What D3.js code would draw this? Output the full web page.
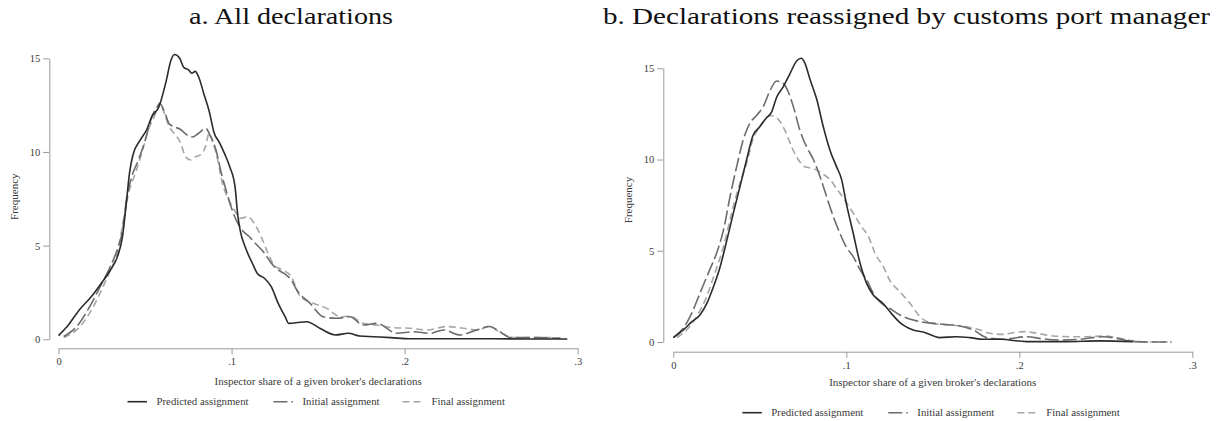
<!DOCTYPE html>
<html>
<head>
<meta charset="utf-8">
<script src="https://cdn.jsdelivr.net/npm/d3@7"></script>
<style>
  html, body { margin: 0; padding: 0; background: #fff; }
  svg { display: block; }
  svg text { font-family: "Liberation Serif", "Tinos", "DejaVu Serif", serif !important; }
</style>
</head>
<body>
<svg id="chart" width="1225" height="421"></svg>
<script>
// ---- Labels ----
const seriesNames = ["Predicted assignment", "Initial assignment", "Final assignment"];
const panelTitles = ["a. All declarations", "b. Declarations reassigned by customs port manager"];
const xTickValues = [0, 0.1, 0.2, 0.3];
const xTickLabels = ["0", ".1", ".2", ".3"];
const yTickValues = [0, 5, 10, 15];
const xAxisTitle = "Inspector share of a given broker's declarations";
const yAxisTitle = "Frequency";

// ---- Panel a: all declarations (kernel density of inspector share) ----
const allPredictedX = [0.000,0.005,0.012,0.019,0.024,0.030,0.034,0.037,0.039,0.041,0.043,0.047,0.051,0.054,0.058,0.062,0.065,0.067,0.070,0.0725,0.075,0.077,0.079,0.081,0.084,0.087,0.090,0.093,0.096,0.099,0.102,0.1035,0.105,0.108,0.112,0.115,0.119,0.123,0.127,0.131,0.133,0.1435,0.151,0.160,0.1675,0.174,0.182,0.192,0.203,0.240,0.270,0.294];
const allPredictedY = [0.20,0.68,1.57,2.28,2.90,3.70,4.40,5.50,7.10,8.86,9.84,10.60,11.20,11.90,12.40,13.70,14.90,15.20,15.00,14.50,14.40,14.20,14.30,14.00,13.10,12.20,11.00,10.50,9.90,9.20,8.15,6.70,5.80,4.90,4.06,3.50,3.26,2.80,1.90,1.20,0.85,0.94,0.59,0.23,0.32,0.18,0.14,0.09,0.03,0.03,0.02,0.02];

const allInitialX = [0.003,0.0105,0.018,0.024,0.030,0.034,0.037,0.0395,0.0424,0.0463,0.050,0.054,0.057,0.0585,0.061,0.064,0.0667,0.0705,0.0744,0.0773,0.081,0.085,0.088,0.091,0.094,0.0967,0.0996,0.1025,0.1064,0.110,0.114,0.119,0.123,0.127,0.1306,0.1345,0.1377,0.1454,0.153,0.1608,0.1685,0.176,0.184,0.1955,0.205,0.2148,0.2225,0.232,0.2417,0.249,0.255,0.261,0.278,0.290];
const allInitialY = [0.15,0.68,1.74,2.80,3.90,4.80,5.80,7.60,8.70,9.60,10.60,11.90,12.40,12.60,12.20,11.50,11.35,11.20,10.90,10.80,11.00,11.26,10.80,10.10,8.90,8.00,7.10,6.40,5.80,5.50,5.10,4.60,4.06,3.70,3.50,3.17,2.63,1.92,1.20,1.12,1.20,0.76,0.85,0.32,0.40,0.32,0.50,0.23,0.50,0.68,0.41,0.09,0.09,0.05];

const allFinalX = [0.003,0.0105,0.018,0.024,0.030,0.034,0.0376,0.0405,0.0444,0.048,0.052,0.0554,0.0585,0.061,0.064,0.0667,0.0705,0.0734,0.0764,0.0793,0.082,0.085,0.087,0.089,0.092,0.0948,0.0986,0.1016,0.1054,0.1093,0.113,0.117,0.121,0.125,0.1297,0.1345,0.1396,0.1473,0.155,0.163,0.1685,0.176,0.184,0.1936,0.203,0.2128,0.2244,0.234,0.2417,0.249,0.256,0.263,0.282,0.290];
const allFinalY = [0.10,0.50,1.40,2.46,3.70,4.60,6.40,7.80,8.86,9.90,11.20,11.90,12.60,12.10,11.35,11.00,10.50,9.75,9.57,9.75,9.84,10.30,11.00,10.60,9.57,8.30,7.40,6.90,6.46,6.55,6.20,5.50,4.60,3.90,3.70,3.35,2.30,1.92,1.65,1.20,1.24,0.85,0.76,0.62,0.59,0.50,0.68,0.59,0.50,0.68,0.32,0.10,0.10,0.05];

// ---- Panel b: declarations reassigned by the customs port manager ----
const reassignedPredictedX = [0.000,0.0058,0.0106,0.0154,0.0193,0.0231,0.027,0.031,0.0347,0.0385,0.0424,0.046,0.050,0.054,0.0568,0.0597,0.0636,0.0674,0.0713,0.074,0.076,0.079,0.0829,0.0867,0.0906,0.0944,0.0973,0.100,0.104,0.108,0.1118,0.1156,0.1214,0.126,0.131,0.1387,0.1445,0.154,0.1638,0.1715,0.179,0.189,0.204,0.227,0.2466,0.266];
const reassignedPredictedY = [0.24,0.66,1.10,1.48,2.10,3.00,4.10,5.60,7.06,8.50,10.00,11.30,11.80,12.30,12.60,13.40,14.00,14.70,15.40,15.55,15.30,14.40,13.30,11.80,10.50,9.60,8.90,7.60,5.96,4.30,3.20,2.58,2.10,1.57,1.06,0.66,0.55,0.24,0.29,0.24,0.15,0.15,0.02,0.02,0.06,0.02];

const reassignedInitialX = [0.000,0.0058,0.0106,0.0154,0.021,0.025,0.029,0.0328,0.0366,0.0405,0.0443,0.048,0.052,0.056,0.0597,0.0626,0.0665,0.0694,0.0732,0.077,0.081,0.0848,0.0886,0.0925,0.0963,0.100,0.104,0.108,0.1118,0.1156,0.1204,0.125,0.131,0.1387,0.1465,0.156,0.1657,0.1734,0.181,0.1907,0.204,0.2139,0.2235,0.235,0.2486,0.2563,0.266,0.277,0.288];
const reassignedInitialY = [0.24,0.75,1.57,2.67,3.95,4.86,6.14,7.97,9.60,11.10,12.00,12.40,12.90,13.80,14.30,14.24,13.70,12.90,11.60,10.70,10.00,9.07,7.97,6.87,5.96,5.20,4.68,3.95,3.40,2.67,2.12,1.85,1.48,1.20,1.06,0.97,0.88,0.66,0.24,0.15,0.29,0.17,0.11,0.15,0.29,0.20,0.02,0.00,0.00];

const reassignedFinalX = [0.002,0.0077,0.0135,0.0193,0.024,0.029,0.0337,0.0385,0.0424,0.046,0.050,0.054,0.0568,0.0607,0.0645,0.0684,0.0722,0.076,0.081,0.0857,0.0906,0.0944,0.099,0.104,0.1089,0.1127,0.1166,0.1214,0.125,0.131,0.1368,0.1426,0.150,0.160,0.1696,0.1773,0.183,0.1907,0.1965,0.2033,0.210,0.2196,0.229,0.239,0.2486,0.256,0.266,0.277,0.288];
const reassignedFinalY = [0.24,0.66,1.39,2.50,3.77,5.23,7.06,8.70,9.80,11.10,11.80,12.30,12.40,12.20,11.60,10.70,10.00,9.60,9.50,9.25,8.90,8.40,7.80,7.06,6.30,5.80,4.86,4.13,3.40,2.75,2.12,1.39,1.02,0.93,0.84,0.66,0.48,0.42,0.51,0.57,0.48,0.33,0.29,0.29,0.33,0.24,0.06,0.00,0.00];

// ---- Line styles for the three assignment series ----
const seriesStyles = [
  { color: "#2b2b2b", dash: null },
  { color: "#6c6c6c", dash: "14,4" },
  { color: "#a6a6a6", dash: "7,4" }
];

const serifStack = "'Liberation Serif', 'Tinos', 'DejaVu Serif', serif";
const zip = (xs, ys) => xs.map((x, i) => ({ x, y: ys[i] }));

// Panel geometry (pixels)
const panels = [
  {
    title: panelTitles[0], titleX: 189, titleLen: 204,
    x0: 58.5, x1: 577.7, yBase: 339.3, yTop: 58.3,
    xAxisY: 348.3, yAxisX: 49.3,
    tickLabelY: 365.2, xTitleY: 384.5, legendY: 401.7,
    yTitleX: 17.5, yTitleY: 196.7,
    series: [zip(allPredictedX, allPredictedY), zip(allInitialX, allInitialY), zip(allFinalX, allFinalY)]
  },
  {
    title: panelTitles[1], titleX: 603, titleLen: 607,
    x0: 673.3, x1: 1192.3, yBase: 342, yTop: 68.3,
    xAxisY: 351.7, yAxisX: 663.3,
    tickLabelY: 368.6, xTitleY: 385.5, legendY: 412.7,
    yTitleX: 632, yTitleY: 200,
    series: [zip(reassignedPredictedX, reassignedPredictedY), zip(reassignedInitialX, reassignedInitialY), zip(reassignedFinalX, reassignedFinalY)]
  }
];

const svg = d3.select("#chart");
const axisColor = "#9a9a9a";
const textColor = "#3a3a3a";

panels.forEach(p => {
  const g = svg.append("g").style("font-family", serifStack);
  const x = d3.scaleLinear().domain([0, 0.3]).range([p.x0, p.x1]);
  const y = d3.scaleLinear().domain([0, 15]).range([p.yBase, p.yTop]);

  // Title
  g.append("text")
    .attr("x", p.titleX).attr("y", 24)
    .attr("textLength", p.titleLen).attr("lengthAdjust", "spacingAndGlyphs")
    .style("font-family", serifStack).style("font-size", "24px")
    .attr("fill", "#111")
    .text(p.title);

  // Y axis
  const yAxis = d3.axisLeft(y).tickValues(yTickValues).tickSize(6).tickSizeOuter(0).tickPadding(3)
    .tickFormat(d3.format("d"));
  const yg = g.append("g").attr("transform", `translate(${p.yAxisX},0)`).call(yAxis)
    .attr("font-family", null).attr("font-size", null);
  yg.select(".domain").attr("stroke", axisColor);
  yg.selectAll(".tick line").attr("stroke", axisColor);
  yg.selectAll(".tick text").attr("fill", textColor)
    .style("font-family", serifStack).style("font-size", "10.5px");

  // X axis
  const xAxis = d3.axisBottom(x).tickValues(xTickValues).tickSize(6).tickSizeOuter(0)
    .tickFormat((d, i) => xTickLabels[i]);
  const xg = g.append("g").attr("transform", `translate(0,${p.xAxisY})`).call(xAxis)
    .attr("font-family", null).attr("font-size", null);
  xg.select(".domain").attr("stroke", axisColor);
  xg.selectAll(".tick line").attr("stroke", axisColor);
  xg.selectAll(".tick text").attr("fill", textColor)
    .style("font-family", serifStack).style("font-size", "10.5px")
    .attr("dy", null).attr("y", p.tickLabelY - p.xAxisY);

  // Axis titles
  g.append("text")
    .attr("x", (p.x0 + p.x1) / 2).attr("y", p.xTitleY)
    .attr("text-anchor", "middle").attr("fill", textColor)
    .style("font-family", serifStack).style("font-size", "11px")
    .text(xAxisTitle);
  g.append("text")
    .attr("transform", `translate(${p.yTitleX},${p.yTitleY}) rotate(-90)`)
    .attr("text-anchor", "middle").attr("fill", textColor)
    .style("font-family", serifStack).style("font-size", "11px")
    .text(yAxisTitle);

  // Density curves (lighter series first so darker lines sit on top)
  const line = d3.line().x(d => x(d.x)).y(d => y(d.y)).curve(d3.curveMonotoneX);
  [2, 1, 0].forEach(i => {
    g.append("path")
      .datum(p.series[i])
      .attr("d", line)
      .attr("fill", "none")
      .attr("stroke", seriesStyles[i].color)
      .attr("stroke-width", 1.6)
      .attr("stroke-linejoin", "round")
      .attr("stroke-dasharray", seriesStyles[i].dash);
  });

  // Legend
  const legendOffsets = [69, 215, 344];
  seriesNames.forEach((name, i) => {
    const lx = p.x0 + legendOffsets[i];
    g.append("line")
      .attr("x1", lx).attr("x2", lx + 19.5)
      .attr("y1", p.legendY).attr("y2", p.legendY)
      .attr("stroke", seriesStyles[i].color).attr("stroke-width", 1.6)
      .attr("stroke-dasharray", seriesStyles[i].dash);
    g.append("text")
      .attr("x", lx + 29).attr("y", p.legendY + 3.6)
      .attr("fill", textColor)
      .style("font-family", serifStack).style("font-size", "10.8px")
      .text(name);
  });
});
</script>
</body>
</html>
